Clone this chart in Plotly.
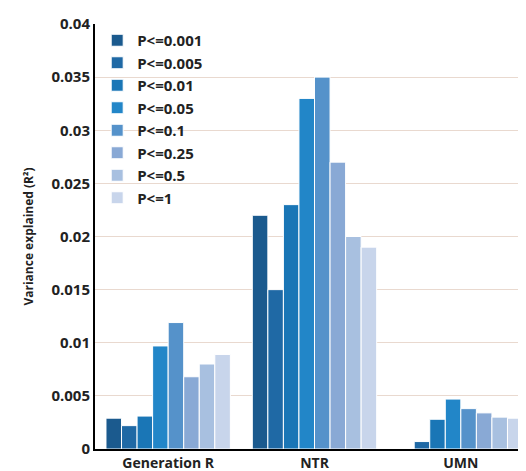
import plotly.graph_objects as go

groups = ['Generation R', 'NTR', 'UMN']
thresholds = ['P<=0.001', 'P<=0.005', 'P<=0.01', 'P<=0.05', 'P<=0.1', 'P<=0.25', 'P<=0.5', 'P<=1']
gen_r = [0.0029, 0.0022, 0.0031, 0.0097, 0.0119, 0.0068, 0.0080, 0.0089]
ntr = [0.022, 0.015, 0.023, 0.033, 0.035, 0.027, 0.020, 0.019]
umn = [0.0, 0.0007, 0.0028, 0.0047, 0.0038, 0.0034, 0.0030, 0.0029]
colors = ['#1b5a8e', '#1f69a5', '#1a76b6', '#2286c8', '#5592ca', '#89a9d5', '#a8c0e0', '#c8d5eb']

fig = go.Figure()
for i, t in enumerate(thresholds):
    fig.add_trace(go.Bar(x=groups, y=[gen_r[i], ntr[i], umn[i]], name=t,
                         marker=dict(color=colors[i], line=dict(color='white', width=1))))

fig.update_layout(
    width=526, height=471, barmode='group', bargap=0.15, bargroupgap=0,
    margin=dict(l=87, r=0, t=16, b=30),
    plot_bgcolor='white', paper_bgcolor='white',
    font=dict(family='Open Sans', color='#222'),
    legend=dict(x=0.005, y=1.0, xanchor='left', yanchor='top', bgcolor='rgba(0,0,0,0)',
                font=dict(size=15, family='Open Sans', weight='bold'),
                itemwidth=30, tracegroupgap=14),
    xaxis=dict(showline=True, linecolor='black', linewidth=2,
               tickfont=dict(size=14, weight='bold'), ticklabelstandoff=0),
    yaxis=dict(range=[0, 0.04], dtick=0.005, tickformat='~g', showline=True,
               linecolor='black', linewidth=2, gridcolor='#e9d9cf',
               tickfont=dict(size=15, weight='bold'),
               title=dict(text='Variance explained (R²)', font=dict(size=12, weight='bold'))),
)
fig.write_html("out.html")
